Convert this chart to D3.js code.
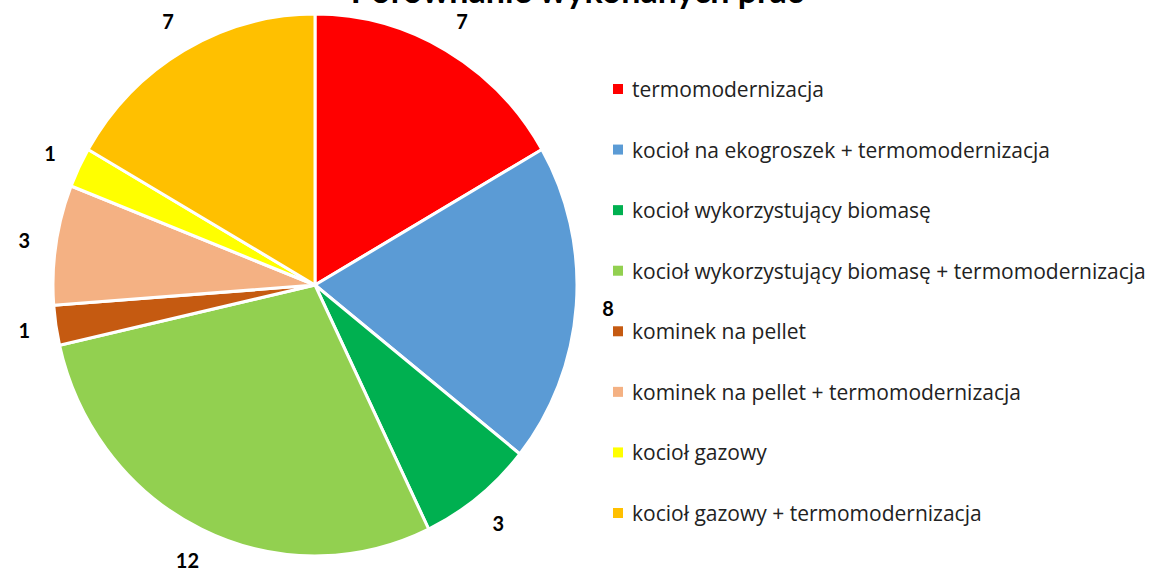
<!DOCTYPE html>
<html>
<head>
<meta charset="utf-8">
<script src="https://cdn.jsdelivr.net/npm/d3@7"></script>
<style>
  body { margin: 0; background: #fff; }
  svg text { font-family: Lato, "Open Sans", sans-serif; }
  svg text.legend-label { font-family: "Open Sans", sans-serif; }
</style>
</head>
<body>
<div id="chart"></div>
<script>
const categories = [
  'termomodernizacja',
  'kocioł na ekogroszek + termomodernizacja',
  'kocioł wykorzystujący biomasę',
  'kocioł wykorzystujący biomasę + termomodernizacja',
  'kominek na pellet',
  'kominek na pellet + termomodernizacja',
  'kocioł gazowy',
  'kocioł gazowy + termomodernizacja'
];
const counts = [7, 8, 3, 12, 1, 3, 1, 7];
const colors = ['#FF0000', '#5B9BD5', '#00B050', '#92D050', '#C55A11', '#F4B183', '#FFFF00', '#FFC000'];
const title = 'Porównanie wykonanych prac';

const width = 1150, height = 570;
// the exported pie is slightly taller than wide
const cx = 315, cy = 285, rx = 262, ry = 271;
const labelRx = 294, labelRy = 305;

const svg = d3.select('#chart')
  .append('svg')
  .attr('width', width)
  .attr('height', height);

const data = categories.map((c, i) => ({ name: c, value: counts[i], color: colors[i] }));

const pie = d3.pie().sort(null).value(d => d.value);
const arc = d3.arc().innerRadius(0).outerRadius(rx);
const slices = pie(data);

const g = svg.append('g')
  .attr('transform', `translate(${cx},${cy}) scale(1,${ry / rx})`);

g.selectAll('path')
  .data(slices)
  .enter()
  .append('path')
  .attr('d', arc)
  .attr('fill', d => d.data.color)
  .attr('stroke', '#fff')
  .attr('stroke-width', 3)
  .attr('stroke-linejoin', 'round');

const mid = d => (d.startAngle + d.endAngle) / 2;

svg.append('g')
  .selectAll('text')
  .data(slices)
  .enter()
  .append('text')
  .attr('x', d => cx + labelRx * Math.sin(mid(d)))
  .attr('y', d => cy - labelRy * Math.cos(mid(d)))
  .attr('text-anchor', 'middle')
  .attr('dominant-baseline', 'central')
  .attr('font-size', 20)
  .attr('font-weight', 'bold')
  .attr('fill', '#000')
  .text(d => d.data.value);

svg.append('text')
  .attr('x', 577)
  .attr('y', 3)
  .attr('text-anchor', 'middle')
  .attr('font-size', 34)
  .attr('font-weight', 'bold')
  .attr('fill', '#000')
  .text(title);

const legendY = d3.scalePoint().domain(categories).range([89, 513]);

const legend = svg.append('g')
  .selectAll('g')
  .data(data)
  .enter()
  .append('g')
  .attr('transform', d => `translate(613,${legendY(d.name)})`);

legend.append('rect')
  .attr('x', 0)
  .attr('y', -5)
  .attr('width', 10)
  .attr('height', 10)
  .attr('fill', d => d.color);

legend.append('text')
  .attr('class', 'legend-label')
  .attr('x', 19)
  .attr('y', 0)
  .attr('dominant-baseline', 'central')
  .attr('font-size', 21)
  .attr('fill', '#222')
  .text(d => d.name);
</script>
</body>
</html>
